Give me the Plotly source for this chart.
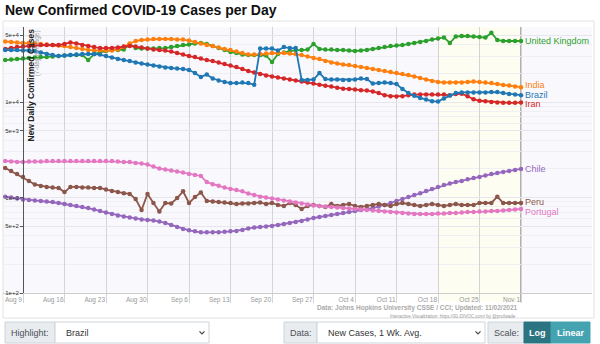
import plotly.graph_objects as go
import pandas as pd
import math

# ---------------- data (7-day average new cases) ----------------
start_date = "2021-08-06"
end_date = "2021-11-01"

united_kingdom = [27500, 27800, 28200, 28500, 28900, 29200, 29600, 29600, 30000, 30300,
                  30700, 31000, 31000, 31000, 27500, 31800, 33000, 34200, 35000, 35000,
                  35400, 40500, 36700, 36300, 36300, 36300, 36700, 36700, 37600, 38600,
                  39500, 40000, 41000, 41500, 40500, 38600, 36700, 35000, 33400, 32600,
                  31400, 31000, 31000, 31000, 30700, 26200, 31800, 33000, 34200, 35000,
                  35000, 35400, 40500, 35900, 35400, 35400, 35000, 35000, 34600, 34200,
                  34600, 35000, 35900, 36700, 37600, 38600, 39000, 39500, 40500, 41500,
                  42500, 43500, 45100, 46200, 47400, 41500, 48500, 49100, 49100, 48500,
                  47900, 47400, 53200, 44600, 43500, 43500, 43500, 43500]

india = [43000, 42500, 42000, 41500, 41500, 41000, 40500, 40000, 39500, 39000,
         38600, 37600, 36700, 35900, 35000, 34600, 34600, 34600, 34600, 35400,
         37600, 41000, 43500, 44600, 45100, 45700, 45700, 45700, 45700, 45100,
         45100, 44000, 42500, 41000, 39500, 38600, 37200, 35900, 35000, 33800,
         32600, 31400, 31400, 31800, 32200, 32600, 32600, 32600, 32200, 31800,
         31000, 30000, 28900, 28200, 26800, 25900, 25300, 24700, 24400, 23800,
         23300, 22700, 22200, 21600, 21100, 20600, 20100, 19700, 19200, 18500,
         17800, 17200, 16600, 16200, 16000, 16000, 16000, 16000, 16200, 16400,
         16200, 16000, 15800, 15400, 15100, 14900, 14500, 14300]

brazil = [35000, 35000, 35000, 34600, 34600, 34200, 33000, 31800, 31000, 30300,
          30700, 31000, 31400, 31800, 31800, 31800, 31400, 30300, 29200, 28200,
          27500, 26800, 25900, 25300, 24700, 24100, 23500, 23000, 22700, 22400,
          22200, 21600, 20100, 18300, 19400, 17600, 16800, 16200, 15800, 15800,
          16000, 15800, 15200, 36300, 36300, 36300, 34600, 37600, 36700, 36700,
          17000, 17000, 17200, 20100, 17400, 17200, 17200, 17000, 17000, 17200,
          17600, 17400, 15600, 15800, 16000, 15800, 15400, 13700, 12400, 11600,
          11000, 10600, 10200, 10100, 10900, 11700, 12400, 12600, 12600, 12600,
          12600, 12600, 12700, 12700, 12400, 12100, 12000, 11800]

iran = [35900, 36700, 37600, 38100, 38600, 39000, 39500, 39500, 39500, 39500,
        40500, 42000, 41000, 39500, 38600, 37600, 36700, 36700, 36700, 37200,
        38100, 38600, 38100, 37200, 36300, 35400, 35000, 34600, 33800, 32600,
        31400, 30300, 29600, 28500, 27500, 26800, 25900, 25000, 24100, 23300,
        22200, 21100, 20400, 19700, 19000, 18500, 18100, 17600, 17200, 16800,
        16400, 16000, 15600, 15200, 14800, 14500, 14100, 13800, 13700, 13500,
        13300, 13200, 12900, 12400, 11800, 11500, 11400, 11500, 11800, 12000,
        12000, 12000, 12000, 12000, 12000, 11800, 12100, 12200, 11500, 10700,
        10300, 10200, 10000, 9900, 9800, 9800, 9800, 9900]

chile = [1020, 1000, 977, 954, 941, 931, 919, 909, 898, 876,
         855, 835, 815, 795, 776, 749, 722, 696, 672, 648,
         633, 618, 603, 589, 581, 575, 561, 541, 516, 492,
         469, 453, 442, 432, 432, 432, 432, 437, 442, 447,
         457, 474, 486, 492, 498, 503, 516, 528, 541, 554,
         567, 589, 610, 624, 639, 656, 672, 688, 705, 722,
         740, 758, 776, 805, 835, 876, 919, 964, 1010, 1060,
         1110, 1170, 1230, 1290, 1350, 1400, 1450, 1490, 1550, 1600,
         1640, 1700, 1760, 1800, 1850, 1890, 1940, 1990]

peru = [2040, 1890, 1760, 1640, 1490, 1370, 1320, 1290, 1270, 1260,
        1140, 1290, 1290, 1270, 1270, 1260, 1260, 1210, 1170, 1140,
        1110, 1090, 964, 740, 1090, 876, 713, 876, 865, 987,
        1160, 876, 1010, 1130, 919, 909, 898, 887, 876, 855,
        865, 865, 876, 887, 855, 876, 835, 815, 876, 835,
        758, 815, 835, 815, 795, 855, 815, 835, 855, 815,
        795, 815, 835, 855, 835, 815, 855, 876, 855, 835,
        815, 835, 855, 835, 815, 835, 855, 835, 835, 835,
        876, 876, 876, 1020, 876, 876, 876, 876]

portugal = [2410, 2380, 2350, 2350, 2380, 2380, 2380, 2410, 2410, 2410,
            2410, 2410, 2410, 2410, 2410, 2410, 2410, 2410, 2410, 2380,
            2350, 2350, 2300, 2270, 2220, 2110, 2010, 1970, 1920, 1870,
            1830, 1760, 1720, 1680, 1450, 1380, 1330, 1270, 1230, 1200,
            1160, 1100, 1060, 1020, 1000, 977, 954, 931, 909, 887,
            865, 845, 825, 815, 805, 795, 786, 776, 767, 758,
            749, 740, 731, 722, 713, 705, 696, 688, 680, 672,
            672, 672, 672, 680, 680, 688, 688, 696, 705, 705,
            713, 713, 722, 722, 731, 740, 749, 758]

series_names = ["United Kingdom", "India", "Iran", "Chile", "Peru", "Portugal", "Brazil"]
series_values = [united_kingdom, india, iran, chile, peru, portugal, brazil]
series_colors = ["#2ca02c", "#ff7f0e", "#d62728", "#9467bd", "#8c564b", "#e377c2", "#1f77b4"]
label_shift = [0, 2, -2, 0, 1, -3, 0]

x_tick_start = "2021-08-09"
x_tick_end = "2021-11-01"
recent_start = "2021-10-18"
y_tick_vals = [100, 500, 1000, 5000, 10000, 50000]
y_tick_text = ["1e+2", "5e+2", "1e+3", "5e+3", "1e+4", "5e+4"]
y_minor_vals = [m * 10 ** k for k in range(2, 5) for m in range(2, 10) if m != 5]

dates = pd.date_range(start_date, end_date, freq="D")
tick_dates = pd.date_range(x_tick_start, x_tick_end, freq="7D")
tick_labels = [d.strftime("%b ") + str(d.day) for d in tick_dates]

# ---------------- geometry ----------------
FW, FH = 600, 344
L, R, T, B = 3, 8, 27, 51
PW, PH = FW - L - R, FH - T - B
px_per_day = 498 / 84.0
t0 = pd.Timestamp(x_tick_start)
x_range = [t0 - pd.Timedelta(days=(23 - L) / px_per_day),
           t0 + pd.Timedelta(days=(FW - R - 23) / px_per_day)]
y_range = [2, 2 + PH / 95.5]


def px(x):
    return (x - L) / PW


def py(y):
    return (T + PH - y) / PH


fig = go.Figure()
for name, vals, col in zip(series_names, series_values, series_colors):
    fig.add_trace(go.Scatter(
        x=dates, y=vals, mode="lines+markers", name=name,
        line=dict(color=col, width=1.8),
        marker=dict(color=col, size=4.5),
        hoverinfo="skip"))

annotations = []
for name, vals, col, sh in zip(series_names, series_values, series_colors, label_shift):
    annotations.append(dict(
        x=dates[-1], y=math.log10(vals[-1]), xref="x", yref="y",
        text=name, showarrow=False, xanchor="left", yanchor="middle",
        xshift=2, yshift=sh,
        font=dict(family="Liberation Sans, Arial", size=9, color=col)))

# y-axis title (inside the plot)
annotations.append(dict(x=px(30), y=1.0, xref="paper", yref="paper",
                        text="<b>New Daily Confirmed Cases</b>", textangle=-90,
                        showarrow=False, xanchor="center", yanchor="top",
                        font=dict(family="Liberation Sans, Arial", size=8.5, color="#222")))
annotations.append(dict(x=px(37), y=0.995, xref="paper", yref="paper",
                        text="(7-day average)", textangle=-90,
                        showarrow=False, xanchor="center", yanchor="top",
                        font=dict(family="Liberation Sans, Arial", size=6.5, color="#999")))
# footer
annotations.append(dict(x=px(520), y=py(308), xref="paper", yref="paper",
                        text="<b>Data: Johns Hopkins University CSSE / CCI; Updated: 11/02/2021</b>",
                        showarrow=False, xanchor="right", yanchor="middle",
                        font=dict(family="Liberation Sans, Arial", size=6.5, color="#aaa")))
annotations.append(dict(x=px(518), y=py(316.5), xref="paper", yref="paper",
                        text="Interactive Visualization: https://91-DIVOC.com/ by @profwade",
                        showarrow=False, xanchor="right", yanchor="middle",
                        font=dict(family="Liberation Sans, Arial", size=4.5, color="#999")))

shapes = []
# container border
shapes.append(dict(type="rect", xref="paper", yref="paper",
                   x0=px(3), x1=px(594), y0=py(318), y1=py(21),
                   line=dict(color="#e2e2e2", width=1), fillcolor="rgba(0,0,0,0)", layer="below"))
# recent-two-weeks band
shapes.append(dict(type="rect", xref="x", yref="paper", x0=recent_start, x1=x_tick_end,
                   y0=py(302), y1=1, fillcolor="#fdfdf1", line=dict(width=0), layer="below"))
# today line
shapes.append(dict(type="line", xref="x", yref="paper", x0=x_tick_end, x1=x_tick_end,
                   y0=py(302), y1=1, line=dict(color="#b0b0b0", width=2), layer="below"))

# ---------------- controls row ----------------
CT, CB = 322, 343
ctl_font = dict(family="Liberation Sans, Arial", size=9, color="#495057")


def box(x0, x1, fill, line="#ced4da"):
    shapes.append(dict(type="rect", xref="paper", yref="paper",
                       x0=px(x0), x1=px(x1), y0=py(CB), y1=py(CT),
                       fillcolor=fill, line=dict(color=line, width=1)))


def label(xc, text, anchor="center", font=ctl_font):
    annotations.append(dict(x=px(xc), y=py((CT + CB) / 2), xref="paper", yref="paper",
                            text=text, showarrow=False, xanchor=anchor, yanchor="middle",
                            font=font))


def chevron(xc):
    yc = (CT + CB) / 2
    shapes.append(dict(type="path", xref="paper", yref="paper",
                       path="M {} {} L {} {} L {} {}".format(px(xc - 2.5), py(yc - 1.2), px(xc), py(yc + 1.3),
                                                            px(xc + 2.5), py(yc - 1.2)),
                       line=dict(color="#444", width=1.2)))


box(5, 55, "#e9ecef")
label(30, "Highlight:")
box(55, 209, "#ffffff")
label(64, "Brazil", "left", dict(family="Liberation Sans, Arial", size=9, color="#333"))
chevron(202)
box(284, 317, "#e9ecef")
label(300.5, "Data:")
box(317, 485, "#ffffff")
label(326, "New Cases, 1 Wk. Avg.", "left", dict(family="Liberation Sans, Arial", size=9, color="#333"))
chevron(478)
box(488, 524, "#e9ecef")
label(506, "Scale:")
box(524, 551, "#2b7582", "#2b7582")
label(537.5, "<b>Log</b>", font=dict(family="Liberation Sans, Arial", size=9, color="#ffffff"))
box(551, 590, "#45a3b1", "#45a3b1")
label(570.5, "<b>Linear</b>", font=dict(family="Liberation Sans, Arial", size=9, color="#ffffff"))

fig.update_layout(
    width=FW, height=FH,
    margin=dict(l=L, r=R, t=T, b=B),
    paper_bgcolor="#ffffff",
    plot_bgcolor="#f9f9fd",
    showlegend=False,
    title=dict(text="<b>New Confirmed COVID-19 Cases per Day</b>",
               x=5 / FW, xanchor="left", xref="container",
               y=1 - 10.5 / FH, yanchor="middle", yref="container",
               font=dict(family="Liberation Sans, Arial", size=14, color="#111")),
    xaxis=dict(type="date", range=x_range,
               tickmode="array", tickvals=tick_dates, ticktext=tick_labels,
               showgrid=True, gridcolor="#d4d4d4", gridwidth=1,
               ticks="outside", ticklen=9, tickcolor="#d4d4d4", tickwidth=1,
               ticklabelposition="outside left",
               tickfont=dict(family="Liberation Sans, Arial", size=6.5, color="#999"),
               showline=True, linecolor="#cccccc", linewidth=1,
               zeroline=False, fixedrange=True),
    yaxis=dict(type="log", range=y_range,
               tickmode="array", tickvals=y_tick_vals, ticktext=y_tick_text,
               anchor="free", position=px(23),
               showgrid=True, gridcolor="#e6e6ec", gridwidth=1,
               minor=dict(tickmode="array", tickvals=y_minor_vals, showgrid=True,
                          gridcolor="#efeff4", ticks=""),
               ticks="outside", ticklen=3, tickcolor="#555",
               tickfont=dict(family="Liberation Sans, Arial", size=6, color="#333"),
               showline=True, linecolor="#555", linewidth=1,
               zeroline=False, fixedrange=True, automargin=False),
    annotations=annotations,
    shapes=shapes,
)

fig.write_html("out.html", config={"displayModeBar": False})
